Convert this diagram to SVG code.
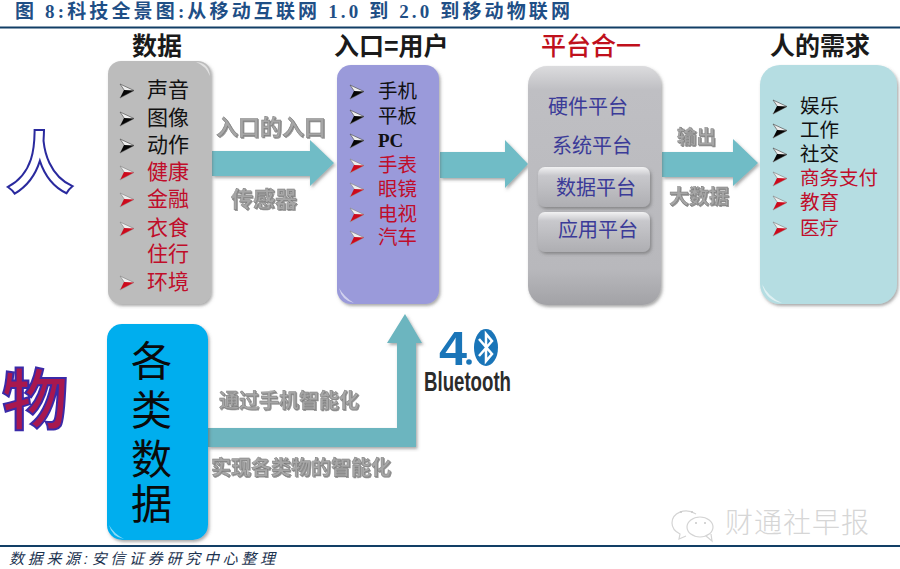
<svg xmlns="http://www.w3.org/2000/svg" width="900" height="569" viewBox="0 0 900 569">
<style>
text{font-family:"Liberation Sans","Noto Sans CJK SC",sans-serif}
.title{font-size:19px;font-weight:700;fill:#1f4f86;font-family:"Liberation Serif","Noto Sans CJK SC",serif}
.head{font-size:25px;font-weight:700;fill:#1a1a1a}
.k{fill:#111}.r{fill:#c00d2a}
.l1{font-size:21px}.l2{font-size:19.5px}
.plat{font-size:20px;fill:#3b3b98}
.glab{fill:#a6a6a6;stroke:#777;stroke-width:.4px;font-weight:700}
.big{font-size:41px;fill:#0a0a0a}
.wm{font-size:28px;fill:#d6d6d6;font-weight:300;letter-spacing:1px}
.arrow{fill:#6fbcc6;filter:url(#sh)}
.gloss{fill:#fff;opacity:.55}
</style>
<defs>
<filter id="sh" x="-10%" y="-10%" width="125%" height="125%"><feDropShadow dx="1.5" dy="2" stdDeviation="1.5" flood-color="#555" flood-opacity=".5"/></filter>
<filter id="ts" x="-10%" y="-10%" width="125%" height="125%"><feDropShadow dx="1" dy="1" stdDeviation=".6" flood-color="#444" flood-opacity=".6"/></filter>
<linearGradient id="pg" x1="0" y1="0" x2="0" y2="1"><stop offset="0" stop-color="#dcdcde"/><stop offset=".1" stop-color="#bfbfc3"/><stop offset=".85" stop-color="#b8b8bc"/><stop offset="1" stop-color="#a2a2a6"/></linearGradient>
<linearGradient id="bg" x1="0" y1="0" x2="0" y2="1"><stop offset="0" stop-color="#f2f2f3"/><stop offset=".22" stop-color="#c8c8cc"/><stop offset="1" stop-color="#aeaeb2"/></linearGradient>
<g id="bk"><path d="M0 0L14 6.5L0 14L4.5 6.5Z" fill="#eee" stroke="#555" stroke-width=".7"/><path d="M0.5 13.5L14 6.5L4 6Z" fill="#050505"/></g>
<g id="br"><path d="M0 0L14 6.5L0 14L4.5 6.5Z" fill="#eee" stroke="#888" stroke-width=".7"/><path d="M0.5 13.5L14 6.5L4 6Z" fill="#cc0a1c"/></g>
</defs>
<rect width="900" height="569" fill="#fff"/>
<g id="title-bar">
<text class="title" x="15" y="18" textLength="555" lengthAdjust="spacing">图 8:科技全景图:从移动互联网 1.0 到 2.0 到移动物联网</text>
<rect x="0" y="26.5" width="900" height="2" fill="#123f66"/>
</g>
<g id="footer">
<rect x="0" y="545" width="900" height="2" fill="#123f66"/>
<text x="9" y="564" font-size="15" font-style="italic" fill="#1c3350" textLength="266" lengthAdjust="spacing">数据来源:安信证券研究中心整理</text>
</g>
<g id="watermark">
<g fill="none" stroke="#d4d4d4" stroke-width="1.2"><path d="M696 514C685 507 672 513 672 523C672 529 676 532 680 534L679 539L686 536"/><ellipse cx="700" cy="527" rx="13" ry="10"/><path d="M706 536L712 541L711 534"/></g>
<g fill="#c8c8c8"><circle cx="681" cy="512" r="1"/><circle cx="692" cy="512" r="1"/><circle cx="696" cy="523" r="1"/><circle cx="705" cy="523" r="1"/></g>
<text class="wm" x="725" y="533">财通社早报</text>
</g>
<g id="connectors">
<path class="arrow" d="M212 151H310V140L334 163L310 186V176H212Z"/>
<path class="arrow" d="M440 152H505V140L528 164L505 188V178H440Z"/>
<path class="arrow" d="M662 152H733V139L758 163L733 186V177H662Z"/>
<path class="arrow" style="fill:#6cb5bf" d="M208 428H397V343H387L405 314L422 343H416V447H208Z"/>
</g>
<g id="side-labels">
<text x="6" y="188" font-size="68" font-weight="700" fill="#fff" stroke="#2a2a9e" stroke-width="2">人</text>
<text x="2" y="424" font-size="66" font-weight="700" fill="#a8184f" stroke="#3a2aa8" stroke-width="2">物</text>
</g>
<g id="node-data">
<rect x="108" y="61" width="103" height="243" rx="13" fill="#bcbcbc" filter="url(#sh)"/>
<path class="gloss" d="M196 62Q209 63 210 76Q206 66 196 62Z"/>
<text class="head" x="132" y="55">数据</text>
<use href="#bk" x="120" y="84"/><text class="l1 k" x="147" y="97">声音</text>
<use href="#bk" x="120" y="112"/><text class="l1 k" x="147" y="125">图像</text>
<use href="#bk" x="120" y="139"/><text class="l1 k" x="147" y="152">动作</text>
<use href="#br" x="120" y="166"/><text class="l1 r" x="147" y="179">健康</text>
<use href="#br" x="120" y="193"/><text class="l1 r" x="147" y="206">金融</text>
<use href="#br" x="120" y="222"/><text class="l1 r" x="147" y="235">衣食</text>
<text class="l1 r" x="147" y="261">住行</text>
<use href="#br" x="120" y="276"/><text class="l1 r" x="147" y="289">环境</text>
</g>
<g id="node-entry">
<rect x="337" y="65" width="102" height="239" rx="14" fill="#9a9ada" filter="url(#sh)"/>
<path class="gloss" d="M339 288Q342 301 354 303Q344 297 339 288Z"/>
<text class="head" x="334" y="55">入口=用户</text>
<use href="#bk" x="350" y="85"/><text class="l2 k" x="378" y="98">手机</text>
<use href="#bk" x="350" y="110"/><text class="l2 k" x="378" y="123">平板</text>
<use href="#bk" x="350" y="134"/><text x="378" y="147" font-size="19" font-weight="700" fill="#111" style="font-family:'Liberation Serif',serif">PC</text>
<use href="#br" x="350" y="159"/><text class="l2 r" x="378" y="172">手表</text>
<use href="#br" x="350" y="183"/><text class="l2 r" x="378" y="196">眼镜</text>
<use href="#br" x="350" y="208"/><text class="l2 r" x="378" y="221">电视</text>
<use href="#br" x="350" y="231"/><text class="l2 r" x="378" y="244">汽车</text>
</g>
<g id="node-platform">
<rect x="528" y="66" width="133" height="239" rx="19" fill="url(#pg)" filter="url(#sh)"/>
<text x="541" y="55" font-size="25" font-weight="500" fill="#c0101c">平台合一</text>
<text class="plat" x="548" y="114">硬件平台</text>
<text class="plat" x="552" y="153">系统平台</text>
<rect x="538" y="167" width="112" height="40" rx="7" fill="url(#bg)" filter="url(#sh)"/>
<text class="plat" x="556" y="195">数据平台</text>
<rect x="538" y="212" width="112" height="40" rx="7" fill="url(#bg)" filter="url(#sh)"/>
<text class="plat" x="558" y="237">应用平台</text>
</g>
<g id="node-needs">
<rect x="760" y="65" width="137" height="239" rx="20" fill="#b5dde2" filter="url(#sh)"/>
<path class="gloss" d="M762 284Q766 301 782 303Q768 297 762 284Z"/>
<text class="head" x="770" y="55">人的需求</text>
<use href="#bk" x="773" y="100"/><text class="l2 k" x="800" y="113">娱乐</text>
<use href="#bk" x="773" y="124"/><text class="l2 k" x="800" y="137">工作</text>
<use href="#bk" x="773" y="148"/><text class="l2 k" x="800" y="161">社交</text>
<use href="#br" x="773" y="172"/><text class="l2 r" x="800" y="185">商务支付</text>
<use href="#br" x="773" y="196"/><text class="l2 r" x="800" y="209">教育</text>
<use href="#br" x="773" y="222"/><text class="l2 r" x="800" y="235">医疗</text>
</g>
<g id="node-things">
<rect x="107" y="324" width="101" height="216" rx="15" fill="#06aeee" filter="url(#sh)"/>
<path class="gloss" d="M109 525Q112 537 124 539Q114 534 109 525Z"/>
<text class="big" x="131" y="376">各</text>
<text class="big" x="131" y="425">类</text>
<text class="big" x="131" y="474">数</text>
<text class="big" x="131" y="519">据</text>
</g>
<g id="connector-labels" filter="url(#ts)">
<text class="glab" x="216" y="135" font-size="22">入口的入口</text>
<text class="glab" x="231" y="207" font-size="22">传感器</text>
<text class="glab" x="677" y="144" font-size="19.5">输出</text>
<text class="glab" x="669" y="204" font-size="20">大数据</text>
<text class="glab" x="219" y="408" font-size="20">通过手机智能化</text>
<text class="glab" x="211" y="475" font-size="20">实现各类物的智能化</text>
</g>
<g id="bluetooth">
<text x="439" y="365" font-size="48" font-weight="700" fill="#1a75b8" style="font-family:'Liberation Sans',sans-serif" textLength="28" lengthAdjust="spacingAndGlyphs">4</text>
<circle cx="469" cy="362" r="2.8" fill="#1a75b8"/>
<ellipse cx="486" cy="347.5" rx="12" ry="18.5" fill="#1a75b8"/>
<path d="M479 339L492 354L486 361V334L492 341L479 356" fill="none" stroke="#fff" stroke-width="2.5"/>
<text x="424" y="391" font-size="27" font-weight="700" fill="#2b2b2b" style="font-family:'Liberation Sans',sans-serif" textLength="87" lengthAdjust="spacingAndGlyphs">Bluetooth</text>
</g>
</svg>
